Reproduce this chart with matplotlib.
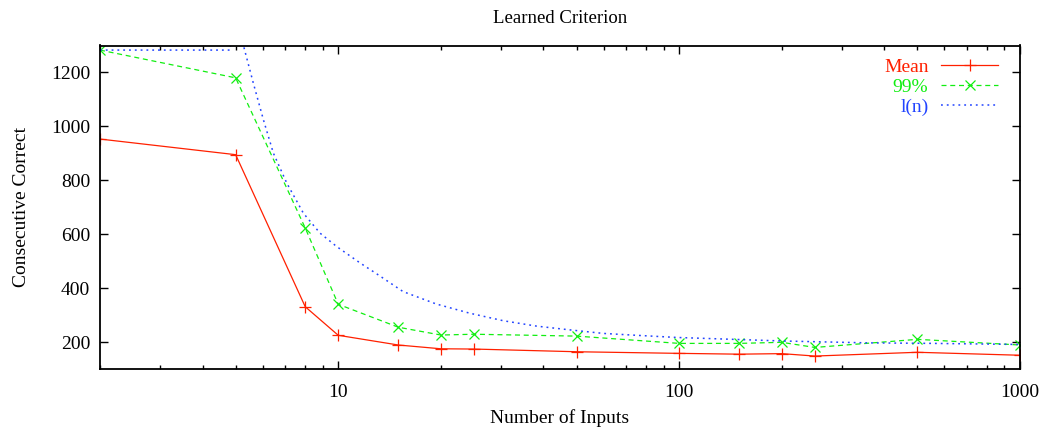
import matplotlib
matplotlib.use("Agg")
import matplotlib.pyplot as plt
from matplotlib.ticker import LogLocator, NullFormatter, FixedLocator, FixedFormatter

plt.rcParams['font.family'] = ['Liberation Serif', 'DejaVu Serif']

# Data
n_inputs = [2, 5, 8, 10, 15, 20, 25, 50, 100, 150, 200, 250, 500, 1000]
mean_vals = [953, 895, 331, 225, 189, 175, 174, 164, 158, 155, 157, 148, 162, 151]
p99_vals = [1283, 1180, 623, 340, 255, 226, 229, 222, 195, 195, 199, 180, 210, 189]

ln_x = [2, 4.82, 4.86, 5.0, 5.27, 5.63, 6.03, 6.45, 7.06, 7.9, 8.84, 9.9, 11.6, 13.0,
        15.5, 19.4, 24.3, 30.5, 38.2, 47.9, 59.9, 75, 98.4, 200, 355, 555, 1000]
ln_y = [1283, 1283, 1380, 1420, 1300, 1162, 1025, 901, 790, 678, 604, 554, 493, 452,
        387, 341, 307, 279, 259, 245, 232, 225, 217, 204, 197, 195, 191]

title = "Learned Criterion"
xlabel = "Number of Inputs"
ylabel = "Consecutive Correct"
y_ticks = [200, 400, 600, 800, 1000, 1200]
x_ticks = [10, 100, 1000]

red = '#ff2000'
green = '#11ee11'
blue = '#2244ff'

fig = plt.figure(figsize=(10.4, 4.29), dpi=100)
ax = fig.add_axes([100/1040, 60/429, 920/1040, 323.5/429])

ax.plot(n_inputs, mean_vals, color=red, lw=0.9, marker='+', ms=9, mew=0.9, label='Mean')
ax.plot(n_inputs, p99_vals, color=green, lw=0.9, marker='x', ms=7, mew=0.9,
        dashes=(4, 3), label='99%')
ax.plot(ln_x, ln_y, color=blue, lw=1.1, dashes=(1.2, 2.6), label='l(n)')

ax.set_xscale('log')
ax.set_xlim(2, 1000)
ax.set_ylim(100, 1300)

ax.xaxis.set_major_locator(FixedLocator(x_ticks))
ax.xaxis.set_major_formatter(FixedFormatter([str(v) for v in x_ticks]))
ax.xaxis.set_minor_locator(LogLocator(base=10, subs=range(2, 10)))
ax.xaxis.set_minor_formatter(NullFormatter())
ax.set_yticks(y_ticks)
ax.set_yticklabels([str(v) for v in y_ticks])

ax.tick_params(which='both', direction='in', top=True, right=True, labelsize=14,
               width=1, color='black')
ax.tick_params(axis='y', pad=7)
ax.tick_params(axis='x', pad=11)
ax.tick_params(which='major', length=6)
ax.tick_params(which='minor', length=3)
for s in ax.spines.values():
    s.set_linewidth(1.3)

ax.set_title(title, fontsize=13.5, pad=16)
ax.set_xlabel(xlabel, fontsize=14, labelpad=6)
ax.set_ylabel(ylabel, fontsize=14, labelpad=15)

leg = ax.legend(loc='upper right', frameon=False, markerfirst=False,
                labelcolor='linecolor', fontsize=14, handlelength=2.95,
                handletextpad=0.65, labelspacing=0.12, borderaxespad=0.0,
                bbox_to_anchor=(0.985, 0.985))
for t in leg.get_texts():
    t.set_ha('right')

fig.savefig('out.png', dpi=100)
